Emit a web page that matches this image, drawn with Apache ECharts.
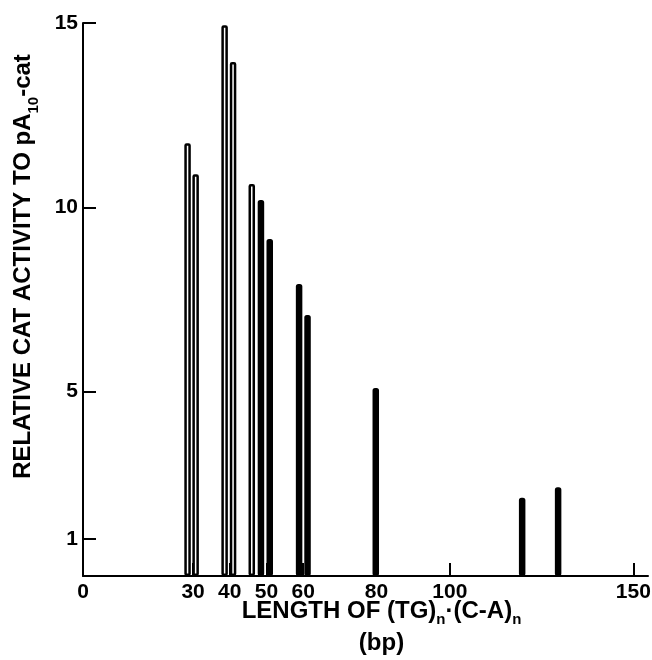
<!DOCTYPE html>
<html>
<head>
<meta charset="utf-8">
<script src="https://cdn.jsdelivr.net/npm/echarts@6/dist/echarts.min.js"></script>
<style>
  html, body { margin: 0; padding: 0; background: #fff; }
  #chart { width: 652px; height: 660px; }
</style>
</head>
<body>
<div id="chart"></div>
<script>
// open bars (white with black outline)
var openLength = [28.5, 30.7, 38.6, 40.9, 46.0]
var openActivity = [11.74, 10.9, 14.94, 13.94, 10.63]
// solid black bars
var solidLength = [48.5, 50.9, 58.9, 61.2, 79.8, 119.7, 129.5]
var solidActivity = [10.2, 9.14, 7.92, 7.08, 5.1, 2.12, 2.41]

var xTicks = [0, 30, 40, 50, 60, 80, 100, 150]
var yTicks = [1, 5, 10, 15]

var barData = []
openLength.forEach(function (x, i) {
  barData.push({
    value: [x, openActivity[i]],
    itemStyle: { color: '#fff', borderColor: '#000', borderWidth: 2.5 }
  })
})
solidLength.forEach(function (x, i) {
  barData.push({
    value: [x, solidActivity[i]],
    itemStyle: { color: '#000', borderColor: '#000', borderWidth: 3 }
  })
})

var font = '"Liberation Sans", Arial, sans-serif'

var option = {
  animation: false,
  backgroundColor: '#fff',
  grid: {
    left: 83,
    right: 4,
    top: 23,
    bottom: 84,
    containLabel: false,
    outerBoundsMode: 'none'
  },
  xAxis: {
    type: 'value',
    min: 0,
    max: 154,
    splitLine: { show: false },
    axisLine: { lineStyle: { color: '#000', width: 2 } },
    axisTick: {
      inside: true,
      length: 13,
      customValues: xTicks.slice(1),
      lineStyle: { color: '#000', width: 2 }
    },
    axisLabel: {
      customValues: xTicks,
      margin: 6,
      color: '#000',
      fontFamily: font,
      fontWeight: 'bold',
      fontSize: 21
    },
    name: 'LENGTH OF (TG){n|n}\u00b7(C-A){n|n}\n(bp)',
    nameLocation: 'middle',
    nameMoveOverlap: false,
    nameGap: 19,
    nameTextStyle: {
      color: '#000',
      fontFamily: font,
      fontWeight: 'bold',
      fontSize: 24,
      lineHeight: 32,
      padding: [0, 0, 0, 32],
      rich: {
        n: {
          fontFamily: font,
          fontWeight: 'bold',
          fontSize: 15,
          color: '#000',
          verticalAlign: 'bottom'
        }
      }
    }
  },
  yAxis: {
    type: 'value',
    min: 0,
    max: 15,
    splitLine: { show: false },
    axisLine: { lineStyle: { color: '#000', width: 2 } },
    axisTick: {
      inside: true,
      length: 13,
      customValues: yTicks,
      lineStyle: { color: '#000', width: 2 }
    },
    axisLabel: {
      customValues: yTicks,
      margin: 5,
      color: '#000',
      fontFamily: font,
      fontWeight: 'bold',
      fontSize: 21
    },
    name: 'RELATIVE CAT ACTIVITY TO pA{s|10}-cat',
    nameLocation: 'middle',
    nameMoveOverlap: false,
    nameRotate: 90,
    nameGap: 42,
    nameTextStyle: {
      color: '#000',
      fontFamily: font,
      fontWeight: 'bold',
      fontSize: 24,
      lineHeight: 35,
      padding: [0, 0, 0, 66],
      rich: {
        s: {
          fontFamily: font,
          fontWeight: 'bold',
          fontSize: 15,
          color: '#000',
          verticalAlign: 'bottom'
        }
      }
    }
  },
  series: [{
    type: 'bar',
    barWidth: 6.5,
    data: barData,
    itemStyle: { borderRadius: 1 }
  }]
}

var chart = echarts.init(document.getElementById('chart'))
chart.setOption(option)
</script>
</body>
</html>
